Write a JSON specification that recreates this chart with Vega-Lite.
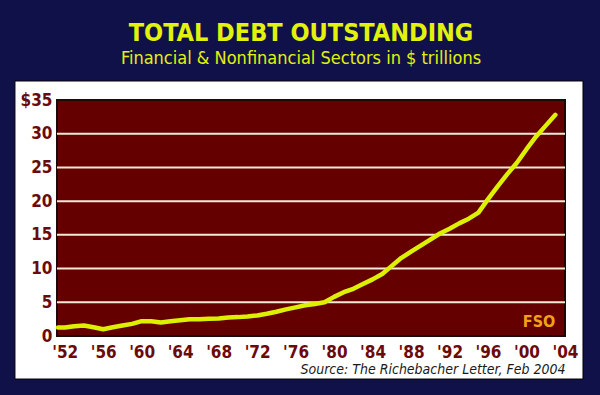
{
  "$schema": "https://vega.github.io/schema/vega-lite/v6.json",
  "width": 508,
  "height": 236,
  "autosize": {"type": "none"},
  "padding": {"left": 57, "top": 100, "right": 35, "bottom": 59},
  "background": "#11114a",
  "config": {
    "view": {"stroke": null},
    "axis": {"labelOverlap": false, "labelFlush": false, "labelBound": false, "domain": false, "ticks": false, "grid": false, "zindex": 1},
    "axisX": {
      "labelPadding": 8,
      "labelFont": "DejaVu Sans Condensed, sans-serif",
      "labelFontSize": 17,
      "labelFontWeight": "bold",
      "labelColor": "#6b0a0a",
      "titleAnchor": "end",
      "titleFont": "DejaVu Sans Condensed, sans-serif",
      "titleFontSize": 14,
      "titleFontStyle": "italic",
      "titleFontWeight": "normal",
      "titleColor": "#1a1a1a",
      "titlePadding": 2
    },
    "axisY": {
      "labelPadding": 5,
      "labelFont": "DejaVu Sans Condensed, sans-serif",
      "labelFontSize": 17,
      "labelFontWeight": "bold",
      "labelColor": "#6b0a0a"
    }
  },
  "title": {
    "text": "TOTAL DEBT OUTSTANDING",
    "subtitle": "Financial & Nonfinancial Sectors in $ trillions",
    "anchor": "middle",
    "dx": -10,
    "offset": 12,
    "font": "DejaVu Sans Condensed, sans-serif",
    "fontSize": 25,
    "fontWeight": "bold",
    "color": "#e2f20c",
    "subtitleFont": "DejaVu Sans Condensed, sans-serif",
    "subtitleFontSize": 18,
    "subtitleColor": "#e2f20c",
    "subtitlePadding": 4
  },
  "layer": [
    {
      "data": {"values": [{}]},
      "mark": {"type": "rect", "fill": "#ffffff", "stroke": "#000000", "strokeWidth": 1},
      "encoding": {
        "x": {
          "datum": 1946.83,
          "type": "quantitative",
          "scale": {"domain": [1951.2, 2004], "nice": false, "zero": false},
          "axis": {
            "values": [1952, 1956, 1960, 1964, 1968, 1972, 1976, 1980, 1984, 1988, 1992, 1996, 2000, 2004],
            "tickCount": 30,
            "labelExpr": "\"'\" + slice(format(datum.value, 'd'), 2)",
            "labelOverlap": false,
            "zindex": 1,
            "title": "Source: The Richebacher Letter, Feb 2004"
          }
        },
        "x2": {"datum": 2005.87},
        "y": {
          "datum": 37.82,
          "type": "quantitative",
          "scale": {"domain": [0, 35], "nice": false, "zero": false},
          "axis": {
            "values": [0, 5, 10, 15, 20, 25, 30, 35],
            "tickCount": 20,
            "labelExpr": "datum.value == 35 ? '$35' : datum.label",
            "labelOverlap": false,
            "zindex": 1,
            "title": null
          }
        },
        "y2": {"datum": -6.38}
      }
    },
    {
      "data": {"values": [{}]},
      "mark": {"type": "rect", "fill": "#640000", "stroke": "#1c0a0a", "strokeWidth": 2},
      "encoding": {
        "x": {"datum": 1951.2, "type": "quantitative"},
        "x2": {"datum": 2004},
        "y": {"datum": 0, "type": "quantitative"},
        "y2": {"datum": 35}
      }
    },
    {
      "data": {"values": [{"v": 5}, {"v": 10}, {"v": 15}, {"v": 20}, {"v": 25}, {"v": 30}]},
      "mark": {"type": "rule", "color": "#f3ead6", "strokeWidth": 2},
      "encoding": {
        "y": {"field": "v", "type": "quantitative"}
      }
    },
    {
      "data": {"values": [
        {"year": 1951.3, "debt": 1.25}, {"year": 1952, "debt": 1.25}, {"year": 1953, "debt": 1.45},
        {"year": 1954, "debt": 1.55}, {"year": 1955, "debt": 1.3}, {"year": 1956, "debt": 1.0},
        {"year": 1957, "debt": 1.3}, {"year": 1958, "debt": 1.55}, {"year": 1959, "debt": 1.8},
        {"year": 1960, "debt": 2.2}, {"year": 1961, "debt": 2.2}, {"year": 1962, "debt": 2.0},
        {"year": 1963, "debt": 2.2}, {"year": 1964, "debt": 2.35}, {"year": 1965, "debt": 2.5},
        {"year": 1966, "debt": 2.5}, {"year": 1967, "debt": 2.55}, {"year": 1968, "debt": 2.6},
        {"year": 1969, "debt": 2.75}, {"year": 1970, "debt": 2.8}, {"year": 1971, "debt": 2.9},
        {"year": 1972, "debt": 3.05}, {"year": 1973, "debt": 3.3}, {"year": 1974, "debt": 3.6},
        {"year": 1975, "debt": 3.95}, {"year": 1976, "debt": 4.25}, {"year": 1977, "debt": 4.55},
        {"year": 1978, "debt": 4.75}, {"year": 1979, "debt": 5.0}, {"year": 1980, "debt": 5.8},
        {"year": 1981, "debt": 6.5}, {"year": 1982, "debt": 7.0}, {"year": 1983, "debt": 7.7},
        {"year": 1984, "debt": 8.4}, {"year": 1985, "debt": 9.2}, {"year": 1986, "debt": 10.4},
        {"year": 1987, "debt": 11.6}, {"year": 1988, "debt": 12.5}, {"year": 1989, "debt": 13.4},
        {"year": 1990, "debt": 14.3}, {"year": 1991, "debt": 15.2}, {"year": 1992, "debt": 15.9},
        {"year": 1993, "debt": 16.7}, {"year": 1994, "debt": 17.4}, {"year": 1995, "debt": 18.3},
        {"year": 1996, "debt": 20.3}, {"year": 1997, "debt": 22.2}, {"year": 1998, "debt": 24.0},
        {"year": 1999, "debt": 25.7}, {"year": 2000, "debt": 27.7}, {"year": 2001, "debt": 29.6},
        {"year": 2002, "debt": 31.2}, {"year": 2003, "debt": 32.8}
      ]},
      "mark": {"type": "line", "color": "#dcf000", "strokeWidth": 4.5, "strokeCap": "round", "strokeJoin": "round"},
      "encoding": {
        "x": {"field": "year", "type": "quantitative"},
        "y": {"field": "debt", "type": "quantitative"}
      }
    },
    {
      "data": {"values": [{"note": "FSO"}]},
      "mark": {"type": "text", "color": "#f2a214", "font": "DejaVu Sans Condensed, sans-serif", "fontSize": 16, "fontWeight": "bold", "align": "center", "baseline": "middle"},
      "encoding": {
        "x": {"datum": 2001.3, "type": "quantitative"},
        "y": {"datum": 2.1, "type": "quantitative"},
        "text": {"field": "note"}
      }
    }
  ]
}
